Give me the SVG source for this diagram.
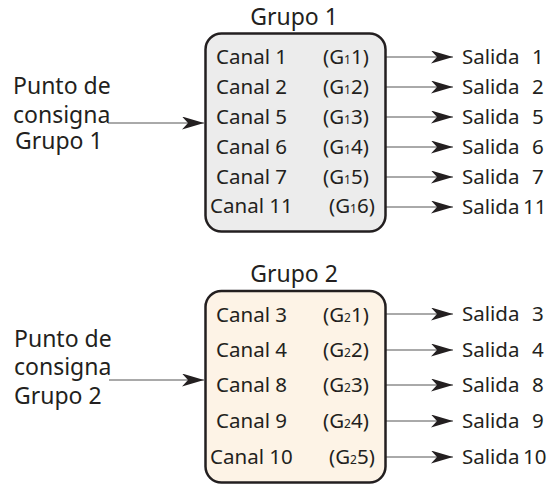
<svg xmlns="http://www.w3.org/2000/svg" width="552" height="485" viewBox="0 0 552 485">
<defs>
<marker id="ah" markerUnits="userSpaceOnUse" markerWidth="22" markerHeight="13" viewBox="0 0 22 13" refX="22" refY="6.5" orient="auto">
<path d="M0,0 L22,6.5 L0,13 L6,6.5 Z" fill="#231f20"/>
</marker>
</defs>
<style>
text{font-family:"Noto Sans","Liberation Sans",sans-serif;fill:#231f20}
.t{font-size:20.5px}
.b{font-size:23px}
.s{font-size:12px}
.box{stroke:#231f20;stroke-width:2.5}
.c{stroke:#555;stroke-width:1;fill:none;marker-end:url(#ah)}
</style>
<rect width="552" height="485" fill="#fff"/>
<g id="connectors">
<line class="c" x1="108" y1="123" x2="204" y2="123"/>
<line class="c" x1="386" y1="57" x2="453" y2="57"/>
<line class="c" x1="386" y1="87" x2="453" y2="87"/>
<line class="c" x1="386" y1="117" x2="453" y2="117"/>
<line class="c" x1="386" y1="147" x2="453" y2="147"/>
<line class="c" x1="386" y1="177" x2="453" y2="177"/>
<line class="c" x1="386" y1="207" x2="453" y2="207"/>
<line class="c" x1="109" y1="380" x2="204" y2="380"/>
<line class="c" x1="386" y1="314" x2="453" y2="314"/>
<line class="c" x1="386" y1="350" x2="453" y2="350"/>
<line class="c" x1="386" y1="385" x2="453" y2="385"/>
<line class="c" x1="386" y1="421" x2="453" y2="421"/>
<line class="c" x1="386" y1="457" x2="453" y2="457"/>
</g>
<g id="grupo1">
<text class="b" x="294" y="25" text-anchor="middle">Grupo 1</text>
<rect class="box" x="205.5" y="33.5" width="180" height="198" rx="16" fill="#ececec"/>
<text class="t" x="216" y="64">Canal 1</text><text class="t" x="323" y="64">(G<tspan class="s">1</tspan>1)</text>
<text class="t" x="216" y="94">Canal 2</text><text class="t" x="323" y="94">(G<tspan class="s">1</tspan>2)</text>
<text class="t" x="216" y="124">Canal 5</text><text class="t" x="323" y="124">(G<tspan class="s">1</tspan>3)</text>
<text class="t" x="216" y="154">Canal 6</text><text class="t" x="323" y="154">(G<tspan class="s">1</tspan>4)</text>
<text class="t" x="216" y="184">Canal 7</text><text class="t" x="323" y="184">(G<tspan class="s">1</tspan>5)</text>
<text class="t" x="210" y="213">Canal 11</text><text class="t" x="329" y="213">(G<tspan class="s">1</tspan>6)</text>
</g>
<g id="setpoint1">
<text class="b" x="13" y="94">Punto de</text>
<text class="b" x="13" y="123">consigna</text>
<text class="b" x="15" y="149">Grupo 1</text>
</g>
<g id="salidas1">
<text class="t" x="462" y="64">Salida<tspan x="532">1</tspan></text>
<text class="t" x="462" y="94">Salida<tspan x="532">2</tspan></text>
<text class="t" x="462" y="124">Salida<tspan x="532">5</tspan></text>
<text class="t" x="462" y="154">Salida<tspan x="532">6</tspan></text>
<text class="t" x="462" y="184">Salida<tspan x="532">7</tspan></text>
<text class="t" x="462" y="214">Salida<tspan x="523">11</tspan></text>
</g>
<g id="grupo2">
<text class="b" x="294" y="282" text-anchor="middle">Grupo 2</text>
<rect class="box" x="205.5" y="291" width="180" height="191.5" rx="16" fill="#fdf3e6"/>
<text class="t" x="216" y="322">Canal 3</text><text class="t" x="323" y="322">(G<tspan class="s">2</tspan>1)</text>
<text class="t" x="216" y="357">Canal 4</text><text class="t" x="323" y="357">(G<tspan class="s">2</tspan>2)</text>
<text class="t" x="216" y="392">Canal 8</text><text class="t" x="323" y="392">(G<tspan class="s">2</tspan>3)</text>
<text class="t" x="216" y="428">Canal 9</text><text class="t" x="323" y="428">(G<tspan class="s">2</tspan>4)</text>
<text class="t" x="210" y="464">Canal 10</text><text class="t" x="329" y="464">(G<tspan class="s">2</tspan>5)</text>
</g>
<g id="setpoint2">
<text class="b" x="14" y="347">Punto de</text>
<text class="b" x="14" y="375">consigna</text>
<text class="b" x="14" y="404">Grupo 2</text>
</g>
<g id="salidas2">
<text class="t" x="462" y="321">Salida<tspan x="532">3</tspan></text>
<text class="t" x="462" y="357">Salida<tspan x="532">4</tspan></text>
<text class="t" x="462" y="392">Salida<tspan x="532">8</tspan></text>
<text class="t" x="462" y="428">Salida<tspan x="532">9</tspan></text>
<text class="t" x="462" y="464">Salida<tspan x="523">10</tspan></text>
</g>
</svg>
